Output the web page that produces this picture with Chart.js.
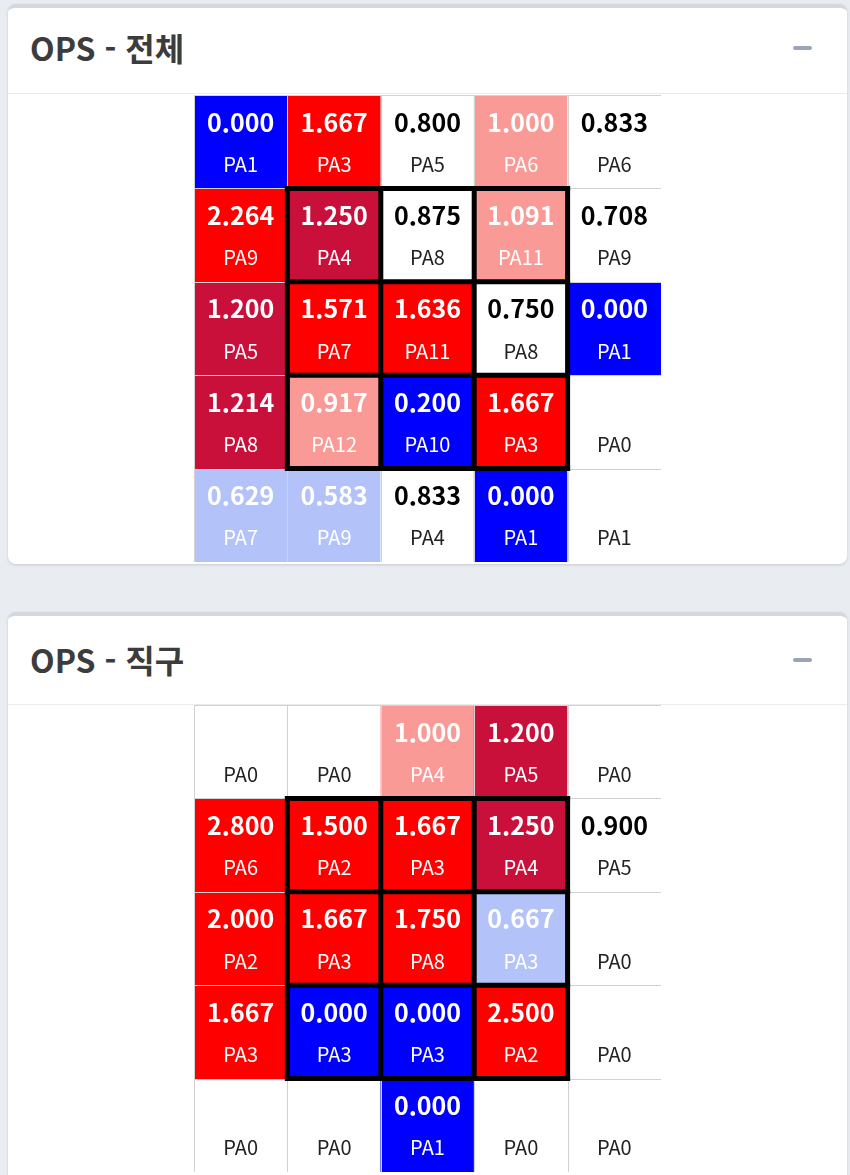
<!DOCTYPE html>
<html lang="ko">
<head>
<meta charset="utf-8">
<script src="https://cdn.jsdelivr.net/npm/chart.js@4.4.0/dist/chart.umd.min.js"></script>
<style>
  body { margin: 0; width: 850px; height: 1175px; overflow: hidden; background: #e9ecf1; font-family: 'Noto Sans CJK KR', 'Noto Sans', sans-serif; }
  .card { position: absolute; left: 8px; width: 839px; background: #fff; border-radius: 8px; border-top: 4px solid #d3d8df; box-shadow: 0 1px 3px rgba(0,0,0,0.15); }
  .title { position: absolute; left: 22px; font-weight: bold; font-size: 32px; line-height: 32px; color: #3c3c3c; }
  .minus { position: absolute; left: 785px; width: 19px; height: 4px; background: #9aa4b8; border-radius: 2px; }
  .sep { position: absolute; left: 0; right: 0; height: 1px; background: #ebebeb; }
  .zone { position: absolute; left: 194px; width: 467px; height: 467px; }
</style>
</head>
<body>
<div class="card" style="top:4px;height:556px">
  <div class="title" style="top:23px">OPS - 전체</div>
  <div class="minus" style="top:38px"></div>
  <div class="sep" style="top:85px"></div>
</div>
<div class="card" style="top:612px;height:600px">
  <div class="title" style="top:27px">OPS - 직구</div>
  <div class="minus" style="top:42px"></div>
  <div class="sep" style="top:88px"></div>
</div>
<div class="zone" style="top:95px"><canvas id="allChart" width="467" height="467"></canvas></div>
<div class="zone" style="top:705px"><canvas id="fastChart" width="467" height="467"></canvas></div>
<script>
// 5x5 존, 위에서 아래로 / 왼쪽에서 오른쪽으로
const columns = ['1', '2', '3', '4', '5'];

const opsAll = [
    [0.000, 1.667, 0.800, 1.000, 0.833],
    [2.264, 1.250, 0.875, 1.091, 0.708],
    [1.200, 1.571, 1.636, 0.750, 0.000],
    [1.214, 0.917, 0.200, 1.667, null],
    [0.629, 0.583, 0.833, 0.000, null]
];
const paAll = [
    [1, 3, 5, 6, 6],
    [9, 4, 8, 11, 9],
    [5, 7, 11, 8, 1],
    [8, 12, 10, 3, 0],
    [7, 9, 4, 1, 1]
];

const opsFast = [
    [null, null, 1.000, 1.200, null],
    [2.800, 1.500, 1.667, 1.250, 0.900],
    [2.000, 1.667, 1.750, 0.667, null],
    [1.667, 0.000, 0.000, 2.500, null],
    [null, null, 0.000, null, null]
];
const paFast = [
    [0, 0, 4, 5, 0],
    [6, 2, 3, 4, 5],
    [2, 3, 8, 3, 0],
    [3, 3, 3, 2, 0],
    [0, 0, 1, 0, 0]
];

function cellColor(v) {
    if (v === null) return '#ffffff';
    if (v < 0.5) return '#0000ff';
    if (v < 0.7) return '#b3c2f8';
    if (v <= 0.9) return '#ffffff';
    if (v < 1.1) return '#f99a97';
    if (v < 1.4) return '#c8103b';
    return '#ff0000';
}

// 셀 테두리, 스트라이크존, 텍스트
const zonePlugin = {
    id: 'zone',
    afterDatasetsDraw(chart, args, opts) {
        const ctx = chart.ctx;
        const xs = chart.scales.x, ys = chart.scales.y;
        const cw = (xs.right - xs.left) / columns.length;
        const colEdge = i => xs.left + i * cw;
        const rowEdge = i => ys.getPixelForValue(i);

        ctx.save();
        // 얇은 회색 선
        ctx.strokeStyle = '#d2d2d2';
        ctx.lineWidth = 1;
        for (let i = 0; i <= 5; i++) {
            const x = Math.round(colEdge(i)) + 0.5;
            const y = Math.round(rowEdge(i)) + 0.5;
            ctx.beginPath(); ctx.moveTo(x, rowEdge(0)); ctx.lineTo(x, rowEdge(5)); ctx.stroke();
            ctx.beginPath(); ctx.moveTo(colEdge(0), y); ctx.lineTo(colEdge(5), y); ctx.stroke();
        }
        // 스트라이크존 (가운데 3x3)
        ctx.strokeStyle = '#000';
        ctx.lineWidth = 5;
        for (let i = 1; i <= 4; i++) {
            ctx.beginPath(); ctx.moveTo(colEdge(i), rowEdge(1) - 2.5); ctx.lineTo(colEdge(i), rowEdge(4) + 2.5); ctx.stroke();
            ctx.beginPath(); ctx.moveTo(colEdge(1) - 2.5, rowEdge(i)); ctx.lineTo(colEdge(4) + 2.5, rowEdge(i)); ctx.stroke();
        }

        // 텍스트
        ctx.textAlign = 'center';
        ctx.textBaseline = 'middle';
        chart.data.datasets.forEach((ds, r) => {
            const meta = chart.getDatasetMeta(r);
            meta.data.forEach((bar, c) => {
                const top = Math.min(bar.y, bar.base);
                const h = Math.abs(bar.base - bar.y);
                const v = opts.ops[r][c];
                const dark = cellColor(v) !== '#ffffff';
                if (v !== null) {
                    ctx.fillStyle = dark ? '#fff' : '#000';
                    ctx.font = "bold 25px 'Noto Sans CJK KR'";
                    ctx.fillText(v.toFixed(3), bar.x, top + h * 0.29);
                }
                ctx.fillStyle = dark ? '#fff' : '#222';
                ctx.font = "20px 'Noto Sans CJK KR'";
                ctx.fillText('PA' + opts.pa[r][c], bar.x, top + h * 0.74);
            });
        });
        ctx.restore();
    }
};

function makeZone(id, ops, pa) {
    new Chart(document.getElementById(id), {
        type: 'bar',
        data: {
            labels: columns,
            datasets: ops.map((row, r) => ({
                label: 'row' + (r + 1),
                data: row.map(() => 1),
                backgroundColor: row.map(cellColor),
                borderWidth: 0,
                barPercentage: 1,
                categoryPercentage: 1
            }))
        },
        options: {
            responsive: false,
            animation: false,
            layout: { padding: 0 },
            plugins: {
                legend: { display: false },
                tooltip: { enabled: false },
                zone: { ops: ops, pa: pa }
            },
            scales: {
                x: { stacked: true, display: false },
                y: { stacked: true, display: false, reverse: true, min: 0, max: 5 }
            }
        },
        plugins: [zonePlugin]
    });
}

makeZone('allChart', opsAll, paAll);
makeZone('fastChart', opsFast, paFast);
</script>
</body>
</html>
